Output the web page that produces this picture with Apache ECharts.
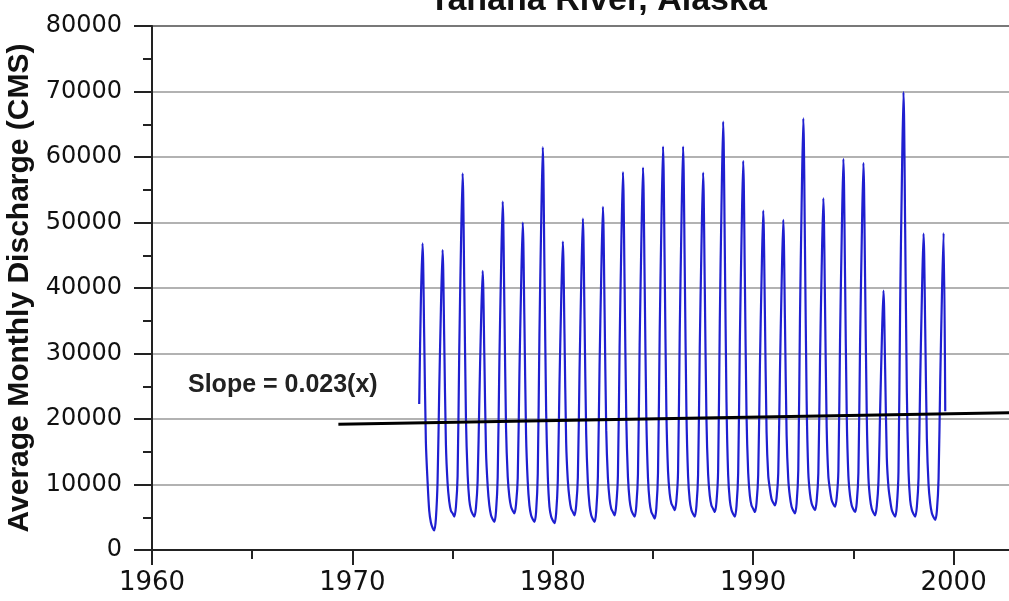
<!DOCTYPE html>
<html>
<head>
<meta charset="utf-8">
<title>Tanana River, Alaska</title>
<script src="https://cdn.jsdelivr.net/npm/echarts@6.0.0/dist/echarts.min.js"></script>
<style>
  html, body { margin: 0; padding: 0; background: #fff; }
  #chart { width: 1009px; height: 601px; }
</style>
</head>
<body>
<div id="chart"></div>
<script>
// years of record, one row of monthly discharge (Jan..Dec) per year
const years = [1973, 1974, 1975, 1976, 1977, 1978, 1979, 1980, 1981, 1982, 1983, 1984, 1985, 1986,
  1987, 1988, 1989, 1990, 1991, 1992, 1993, 1994, 1995, 1996, 1997, 1998, 1999];

const monthlyDischarge = [
  [null, null, null, null, 22300, 38000, 46800, 32500, 16500, 10500, 6000, 4200],
  [3400, 3000, 4800, 10500, 24500, 36800, 45800, 31900, 16100, 10200, 7400, 6000],
  [5600, 5100, 6600, 11300, 30800, 46200, 57500, 40200, 20000, 11500, 7600, 6100],
  [5500, 5100, 6500, 10600, 22800, 34400, 42600, 29800, 15100, 9800, 6800, 5300],
  [4700, 4300, 5900, 11100, 28600, 42600, 53200, 37200, 18600, 11200, 8100, 6600],
  [6000, 5600, 7000, 11000, 26800, 40000, 50000, 35000, 17500, 10400, 6800, 5300],
  [4700, 4300, 5800, 11600, 33000, 49200, 61500, 43000, 21300, 11300, 6600, 5100],
  [4500, 4100, 5600, 10700, 25300, 37800, 47100, 33000, 16500, 10600, 7800, 6300],
  [5800, 5300, 6800, 11100, 27200, 40500, 50600, 35400, 17700, 10300, 6800, 5300],
  [4700, 4300, 5900, 11200, 28100, 41900, 52400, 36700, 18300, 11000, 7800, 6300],
  [5800, 5300, 6900, 11500, 31000, 46200, 57700, 40400, 20000, 11200, 7600, 6100],
  [5500, 5100, 6700, 11600, 31300, 46700, 58400, 40900, 20300, 11000, 7300, 5800],
  [5300, 4800, 6400, 11800, 33000, 49300, 61600, 43100, 21300, 12000, 8600, 7100],
  [6600, 6100, 7500, 11900, 33000, 49300, 61600, 43100, 21300, 11300, 7600, 6100],
  [5500, 5100, 6700, 11500, 30900, 46100, 57600, 40300, 20000, 11600, 8300, 6800],
  [6300, 5800, 7300, 12100, 35000, 52300, 65400, 45800, 22600, 11500, 7600, 6100],
  [5500, 5100, 6700, 11700, 31800, 47500, 59400, 41600, 20600, 11800, 8300, 6800],
  [6300, 5800, 7200, 11500, 27800, 41400, 51800, 36300, 18100, 11400, 9300, 7800],
  [7200, 6800, 8000, 11700, 27000, 40300, 50400, 35300, 17600, 10800, 8100, 6600],
  [6000, 5600, 7100, 12200, 35300, 52700, 65900, 46100, 22700, 11800, 8600, 7100],
  [6500, 6100, 7500, 11700, 28800, 43000, 53700, 37600, 18700, 11300, 9100, 7600],
  [7000, 6600, 8000, 12000, 32000, 47800, 59700, 41800, 20700, 11300, 8300, 6800],
  [6200, 5800, 7200, 11800, 31700, 47300, 59100, 41400, 20500, 11000, 7800, 6300],
  [5700, 5300, 6700, 10400, 21200, 31700, 39600, 27700, 14100, 9600, 7600, 6100],
  [5500, 5100, 6700, 12000, 37500, 55900, 69900, 48900, 24100, 12000, 7600, 6100],
  [5500, 5100, 6600, 11000, 25900, 38600, 48300, 33800, 16900, 10000, 7100, 5600],
  [5000, 4600, 6000, 10900, 25900, 38700, 48400, 21200, null, null, null, null],
];

// linear trend (end points)
const trendX = [1969.3, 2003];
const trendY = [19180, 20970];

const yTicks = [0, 80000, 10000]; // min, max, step
const xTicks = [1960, 2010, 10];

const slopeLabel = "Slope = 0.023(x)";

let series = [];
years.forEach((yr, i) => {
  monthlyDischarge[i].forEach((v, m) => {
    if (v !== null) series.push([yr + m / 12, v]);
  });
});

const chart = echarts.init(document.getElementById("chart"), null, { renderer: "canvas" });

chart.setOption({
  animation: false,
  backgroundColor: "#fff",
  grid: {
    left: 152,
    right: -145,
    top: 26,
    bottom: 51,
    containLabel: false,
    outerBoundsMode: "none",
    show: true,
    borderColor: "#1a1a1a",
    borderWidth: 2,
  },
  graphic: [
    {
      type: "text",
      x: 598,
      y: 1,
      style: {
        text: "Tanana River, Alaska",
        font: "bold 34px 'Liberation Sans', Arial, sans-serif",
        fill: "#111",
        textAlign: "center",
        textVerticalAlign: "middle",
      },
    },
    {
      type: "text",
      x: 188,
      y: 385,
      z: 10,
      style: {
        text: slopeLabel,
        font: "bold 25px 'Liberation Sans', Arial, sans-serif",
        fill: "#222",
        textAlign: "left",
        textVerticalAlign: "middle",
      },
    },
  ],
  xAxis: {
    type: "value",
    min: xTicks[0],
    max: xTicks[1],
    interval: xTicks[2],
    axisLine: { lineStyle: { color: "#222", width: 2 } },
    axisTick: { length: 15, lineStyle: { color: "#222", width: 2 } },
    minorTick: { show: true, splitNumber: 2, length: 9, lineStyle: { color: "#222", width: 2 } },
    splitLine: { show: false },
    axisLabel: {
      margin: 20,
      color: "#111",
      fontSize: 26,
      fontFamily: "DejaVu Sans",
      formatter: (v) => (v % 10 === 0 ? String(v) : ""),
    },
  },
  yAxis: {
    type: "value",
    min: yTicks[0],
    max: yTicks[1],
    interval: yTicks[2],
    name: "Average Monthly Discharge (CMS)",
    nameLocation: "middle",
    nameRotate: 90,
    nameGap: 104,
    nameTextStyle: {
      fontSize: 30,
      fontWeight: "bold",
      fontFamily: "Liberation Sans",
      color: "#111",
    },
    axisLine: { show: true, lineStyle: { color: "#222", width: 2 } },
    axisTick: { show: true, length: 18, lineStyle: { color: "#222", width: 2 } },
    minorTick: { show: true, splitNumber: 2, length: 9, lineStyle: { color: "#222", width: 2 } },
    splitLine: { show: true, lineStyle: { color: "#999", width: 1.5 } },
    axisLabel: {
      margin: 30,
      color: "#111",
      fontSize: 24,
      fontFamily: "DejaVu Sans",
      formatter: (v) => String(v),
    },
  },
  series: [
    {
      name: "Discharge",
      type: "line",
      data: series,
      showSymbol: false,
      smooth: 0.3,
      lineStyle: { color: "#1f1fd0", width: 2.2 },
      z: 2,
    },
    {
      name: "Trend",
      type: "line",
      data: trendX.map((x, i) => [x, trendY[i]]),
      showSymbol: false,
      lineStyle: { color: "#000", width: 3 },
      z: 3,
    },
  ],
});
</script>
</body>
</html>
